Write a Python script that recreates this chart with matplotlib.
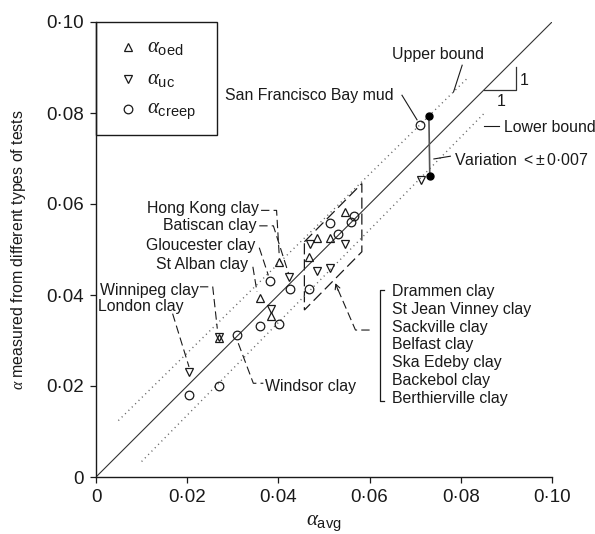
import numpy as np
import matplotlib
matplotlib.use('Agg')
import matplotlib.pyplot as plt
from matplotlib.patches import Polygon, Rectangle

plt.rcParams['font.family'] = ['Liberation Sans', 'DejaVu Sans']
plt.rcParams['mathtext.fontset'] = 'custom'
plt.rcParams['mathtext.rm'] = 'Liberation Sans'
plt.rcParams['mathtext.sf'] = 'Liberation Sans'
plt.rcParams['mathtext.it'] = 'Liberation Serif:italic'
plt.rcParams['lines.scale_dashes'] = False

# alpha from oedometer, undrained creep (uc) and creep tests vs. the average alpha
oed_avg = [0.0270, 0.0383, 0.0360, 0.0402, 0.0467, 0.0485, 0.0513, 0.0545]
oed_val = [0.0305, 0.0353, 0.0393, 0.0473, 0.0484, 0.0525, 0.0525, 0.0583]

uc_avg = [0.0204, 0.0270, 0.0383, 0.0423, 0.0469, 0.0546, 0.0485, 0.0513, 0.0712]
uc_val = [0.0231, 0.0307, 0.0370, 0.0440, 0.0512, 0.0512, 0.0453, 0.0459, 0.0653]

creep_avg = [0.0204, 0.0270, 0.0309, 0.0359, 0.0402, 0.0382, 0.0425, 0.0467,
             0.0513, 0.0531, 0.0560, 0.0566, 0.0711]
creep_val = [0.0180, 0.0201, 0.0312, 0.0332, 0.0336, 0.0430, 0.0413, 0.0413,
             0.0558, 0.0533, 0.0561, 0.0574, 0.0774]

# San Francisco Bay mud spread (filled dots joined by a line)
var_avg = [0.0730, 0.0732]
var_val = [0.0794, 0.0662]

# bounds either side of the 1:1 line
upper_x = [0.0049, 0.0814]
upper_y = [0.0124, 0.0876]
lower_x = [0.0100, 0.0851]
lower_y = [0.0034, 0.0799]

ticks = [0, 0.02, 0.04, 0.06, 0.08, 0.10]
tick_labels = ['0', '0·02', '0·04', '0·06', '0·08', '0·10']

drammen_group = ['Drammen clay', 'St Jean Vinney clay', 'Sackville clay', 'Belfast clay',
                 'Ska Edeby clay', 'Backebol clay', 'Berthierville clay']

ink = '#1a1a1a'
fs = 11.4

fig = plt.figure(figsize=(5.95, 5.34), dpi=100)
ax = fig.add_axes([96 / 595, 57 / 534, 456 / 595, 455 / 534])
ax.set_xlim(0, 0.1)
ax.set_ylim(0, 0.1)
ax.set_xticks(ticks)
ax.set_xticklabels(tick_labels)
ax.set_yticks(ticks)
ax.set_yticklabels(tick_labels)
for s in ['top', 'right']:
    ax.spines[s].set_visible(False)
for s in ['left', 'bottom']:
    ax.spines[s].set_linewidth(1.0)
    ax.spines[s].set_color(ink)
ax.tick_params(direction='out', length=4.5, width=0.9, labelsize=13.5, pad=4,
               colors=ink)

# 1:1 line and bounds
ax.plot([0, 0.1], [0, 0.1], color='#333333', lw=0.8)
ax.plot(upper_x, upper_y, color='#666666', lw=1.0, linestyle=(0, (0.8, 2.6)))
ax.plot(lower_x, lower_y, color='#666666', lw=1.0, linestyle=(0, (0.8, 2.6)))

# slope 1:1 indicator
ax.plot([0.0850, 0.0920, 0.0920], [0.0851, 0.0851, 0.0901], color='#333333', lw=0.9)
ax.text(0.0929, 0.0874, '1', fontsize=fs, ha='left', va='center_baseline', color=ink)
ax.text(0.0888, 0.0829, '1', fontsize=fs, ha='center', va='center_baseline', color=ink)

# data points
mk = dict(linestyle='none', markerfacecolor='none', markeredgecolor=ink,
          markeredgewidth=0.9)
ax.plot(oed_avg, oed_val, marker='^', markersize=5.8, **mk)
ax.plot(uc_avg, uc_val, marker='v', markersize=5.8, **mk)
ax.plot(creep_avg, creep_val, marker='o', markersize=6.2, **mk)

ax.plot(var_avg, var_val, color='#555555', lw=1.2)
ax.plot(var_avg, var_val, linestyle='none', marker='o', markersize=5,
        color='black')

# Drammen etc. group outline
group_box = Polygon([[0.0457, 0.0517], [0.0583, 0.0645], [0.0583, 0.0495], [0.0457, 0.0367]],
                    closed=True, fill=False, edgecolor=ink, lw=0.9,
                    linestyle=(0, (8, 3.5)))
ax.add_patch(group_box)

# labels with leader lines
dash = (0, (6, 3))
left_labels = [
    ('Hong Kong clay', 0.0358, 0.0593, [(0.0362, 0.0586), (0.0396, 0.0586), (0.0402, 0.0484)]),
    ('Batiscan clay', 0.0353, 0.0555, [(0.0358, 0.0552), (0.0389, 0.0552), (0.0422, 0.0448)]),
    ('Gloucester clay', 0.0349, 0.0512, [(0.0358, 0.0504), (0.0378, 0.0443)]),
    ('St Alban clay', 0.0333, 0.0470, [(0.0344, 0.0462), (0.0353, 0.0407)]),
    ('Winnipeg clay', 0.0225, 0.0413, [(0.0228, 0.0418), (0.0256, 0.0418), (0.0266, 0.0326)]),
    ('London clay', 0.0192, 0.0378, [(0.0168, 0.0359), (0.0204, 0.0242)]),
]
for label, tx, ty, path in left_labels:
    ax.text(tx, ty, label, fontsize=fs, ha='right', va='center_baseline', color=ink)
    px, py = zip(*path)
    ax.plot(px, py, color=ink, lw=0.8, linestyle=dash)

ax.text(0.0371, 0.0202, 'Windsor clay', fontsize=fs, ha='left', va='center_baseline', color=ink)
ax.plot([0.0312, 0.0345, 0.0367], [0.0294, 0.0206, 0.0206], color=ink, lw=0.8, linestyle=dash)

# leader into the grouped clays
ax.plot([0.0600, 0.0569, 0.0528], [0.0323, 0.0323, 0.0418], color=ink, lw=0.8, linestyle=dash)
ax.annotate('', xy=(0.0525, 0.0426), xytext=(0.0531, 0.0410),
            arrowprops=dict(arrowstyle='->,head_length=0.35,head_width=0.18',
                            color=ink, lw=0.8, shrinkA=0, shrinkB=0))

# bracket listing the grouped clays
ax.plot([0.0631, 0.0622, 0.0622, 0.0631], [0.0412, 0.0412, 0.0167, 0.0167], color=ink, lw=0.9)
for name, gy in zip(drammen_group, np.linspace(0.0411, 0.0176, len(drammen_group))):
    ax.text(0.0649, gy, name, fontsize=fs, ha='left', va='center_baseline', color=ink)

# annotations around the upper end
ax.text(0.0750, 0.0932, 'Upper bound', fontsize=fs, ha='center', va='center_baseline', color=ink)
ax.plot([0.0803, 0.0784], [0.0905, 0.0846], color=ink, lw=0.8)

ax.text(0.0652, 0.0842, 'San Francisco Bay mud', fontsize=fs, ha='right', va='center_baseline', color=ink)
ax.plot([0.0671, 0.0704], [0.0839, 0.0785], color=ink, lw=0.8)

ax.text(0.0894, 0.0771, 'Lower bound', fontsize=fs, ha='left', va='center_baseline', color=ink)
ax.plot([0.0850, 0.0883], [0.0771, 0.0771], color=ink, lw=0.8)

ax.text(0.0784, 0.0700, 'Variation $<\\!\\pm$0·007', fontsize=fs, ha='left',
        va='center_baseline', color=ink)
ax.plot([0.0741, 0.0777], [0.0699, 0.0705], color=ink, lw=0.8)

# key in the top-left corner
ax.add_patch(Rectangle((0, 0.7516), 0.2654, 0.2484, transform=ax.transAxes,
                       fill=False, edgecolor=ink, lw=1.0, clip_on=False))
key = [('^', r'$\alpha_{\mathrm{oed}}$', 0.945),
       ('v', r'$\alpha_{\mathrm{uc}}$', 0.8747),
       ('o', r'$\alpha_{\mathrm{creep}}$', 0.8088)]
for m, lab, ky in key:
    ax.plot([0.0702], [ky], marker=m, markersize=5.8 if m != 'o' else 6.2,
            transform=ax.transAxes, clip_on=False, **mk)
    ax.text(0.1118, ky - 0.011, lab, fontsize=15, ha='left', va='baseline',
            transform=ax.transAxes, color=ink)

fig.text(19 / 595, 1 - 250 / 534, r'$\alpha$ measured from different types of tests',
         rotation=90, ha='center', va='center', fontsize=fs, color=ink)
fig.text(324 / 595, 1 - 526 / 534, r'$\alpha_{\mathrm{avg}}$', ha='center', va='baseline',
         fontsize=15, color=ink)

fig.savefig('out.png', dpi=100)
